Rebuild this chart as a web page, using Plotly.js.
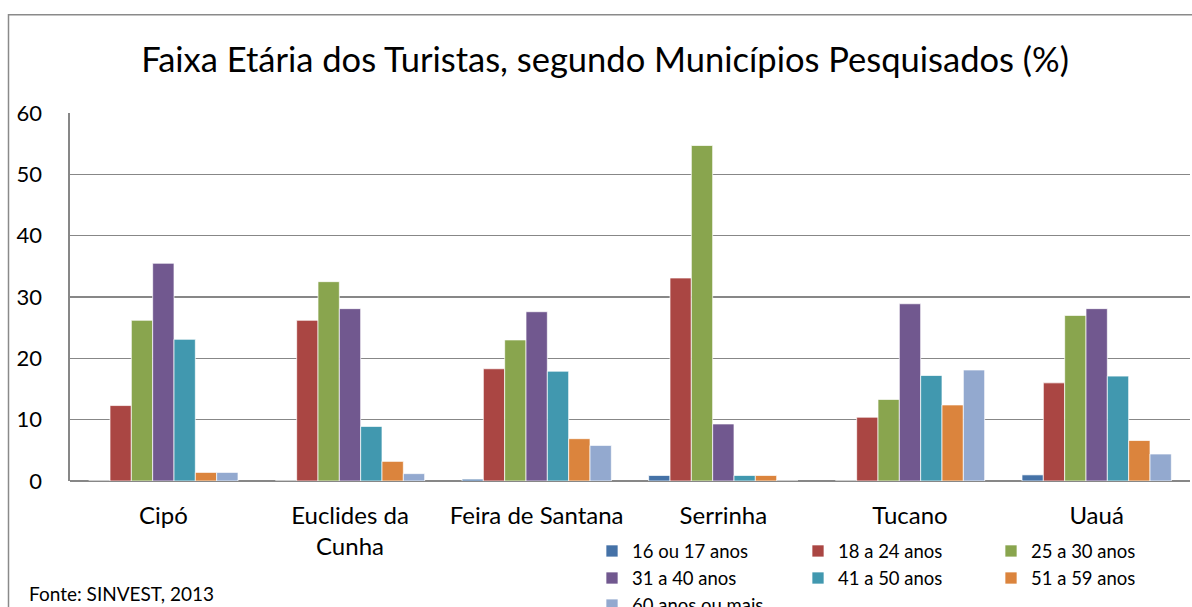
<!DOCTYPE html>
<html>
<head>
<meta charset="utf-8">
<script src="https://cdn.plot.ly/plotly-3.0.1.min.js"></script>
<style>html,body{margin:0;padding:0;background:#fff;}#chart{width:1192px;height:607px;}</style>
</head>
<body>
<div id="chart"></div>
<script>
const categories = ["Cipó", "Euclides da<br>Cunha", "Feira de Santana", "Serrinha", "Tucano", "Uauá"];
const seriesNames = ["16 ou 17 anos", "18 a 24 anos", "25 a 30 anos", "31 a 40 anos", "41 a 50 anos", "51 a 59 anos", "60 anos ou mais"];
const s16a17 = [0, 0, 0.3, 0.9, 0, 1.0];
const s18a24 = [12.3, 26.2, 18.3, 33.1, 10.4, 16.0];
const s25a30 = [26.2, 32.5, 23.0, 54.7, 13.3, 27.0];
const s31a40 = [35.5, 28.1, 27.6, 9.3, 28.9, 28.1];
const s41a50 = [23.1, 8.9, 17.9, 0.9, 17.2, 17.1];
const s51a59 = [1.4, 3.2, 6.9, 0.9, 12.4, 6.6];
const s60mais = [1.4, 1.2, 5.8, 0, 18.1, 4.4];
const yTicks = [0, 10, 20, 30, 40, 50, 60];

const seriesValues = [s16a17, s18a24, s25a30, s31a40, s41a50, s51a59, s60mais];
const colors = ["#4572A7", "#AA4643", "#89A54E", "#71588F", "#4198AF", "#DB843D", "#93A9CF"];
const legendIds = ["legend", "legend2", "legend3", "legend", "legend2", "legend3", "legend"];

const FONT = "Lato, 'Open Sans', sans-serif";

const traces = seriesNames.map((name, i) => ({
  type: "bar",
  name: name,
  x: categories,
  y: seriesValues[i],
  marker: { color: colors[i], line: { color: "rgba(255,255,255,0.7)", width: 1 } },
  legend: legendIds[i]
}));

// plot area geometry helpers (pixels -> paper)
const L = 70, R = 1190, T = 113, B = 481.5;
const px = v => (v - L) / (R - L);
const py = v => (B - v) / (B - T);

const legendBase = {
  orientation: "v",
  xanchor: "left",
  yanchor: "top",
  font: { family: FONT, size: 18.5, color: "#000" },
  bgcolor: "rgba(0,0,0,0)",
  itemclick: false
};

const layout = {
  width: 1192,
  height: 607,
  margin: { l: L, r: 1192 - R, t: T, b: 607 - B, autoexpand: false },
  paper_bgcolor: "#fff",
  plot_bgcolor: "#fff",
  font: { family: FONT, color: "#000" },
  title: {
    text: "Faixa Etária dos Turistas, segundo Municípios Pesquisados (%)",
    font: { family: FONT, size: 34.5, color: "#000" },
    x: 605 / 1192, xanchor: "center",
    y: 1 - 60 / 607, yanchor: "middle"
  },
  barmode: "group",
  bargap: 0.2,
  bargroupgap: 0,
  xaxis: {
    type: "category",
    showgrid: false,
    showline: false,
    ticks: "",
    tickfont: { family: FONT, size: 24, color: "#000" },
    ticklabelstandoff: 18
  },
  yaxis: {
    range: [0, 60],
    tickvals: yTicks,
    ticktext: yTicks.map(String),
    showgrid: true,
    gridcolor: "#878787",
    gridwidth: 1.6,
    zeroline: true,
    zerolinecolor: "#878787",
    zerolinewidth: 2,
    showline: true,
    linecolor: "#878787",
    linewidth: 1.6,
    ticks: "",
    tickfont: { family: FONT, size: 22, color: "#000" },
    ticklabelstandoff: 22
  },
  legend: Object.assign({}, legendBase, { x: px(592), y: py(533) }),
  legend2: Object.assign({}, legendBase, { x: px(798), y: py(533) }),
  legend3: Object.assign({}, legendBase, { x: px(991), y: py(533) }),
  annotations: [{
    xref: "paper", yref: "paper",
    x: px(27), y: py(594),
    xanchor: "left", yanchor: "middle",
    text: "Fonte: SINVEST, 2013",
    showarrow: false,
    font: { family: FONT, size: 19, color: "#000" }
  }],
  shapes: [{
    type: "rect", xref: "paper", yref: "paper",
    x0: px(8.5), x1: px(1230), y0: py(14.5), y1: py(640),
    line: { color: "#8a8a8a", width: 1.5 },
    fillcolor: "rgba(0,0,0,0)",
    layer: "below"
  }]
};

Plotly.newPlot("chart", traces, layout, { displayModeBar: false, staticPlot: true });
</script>
</body>
</html>
